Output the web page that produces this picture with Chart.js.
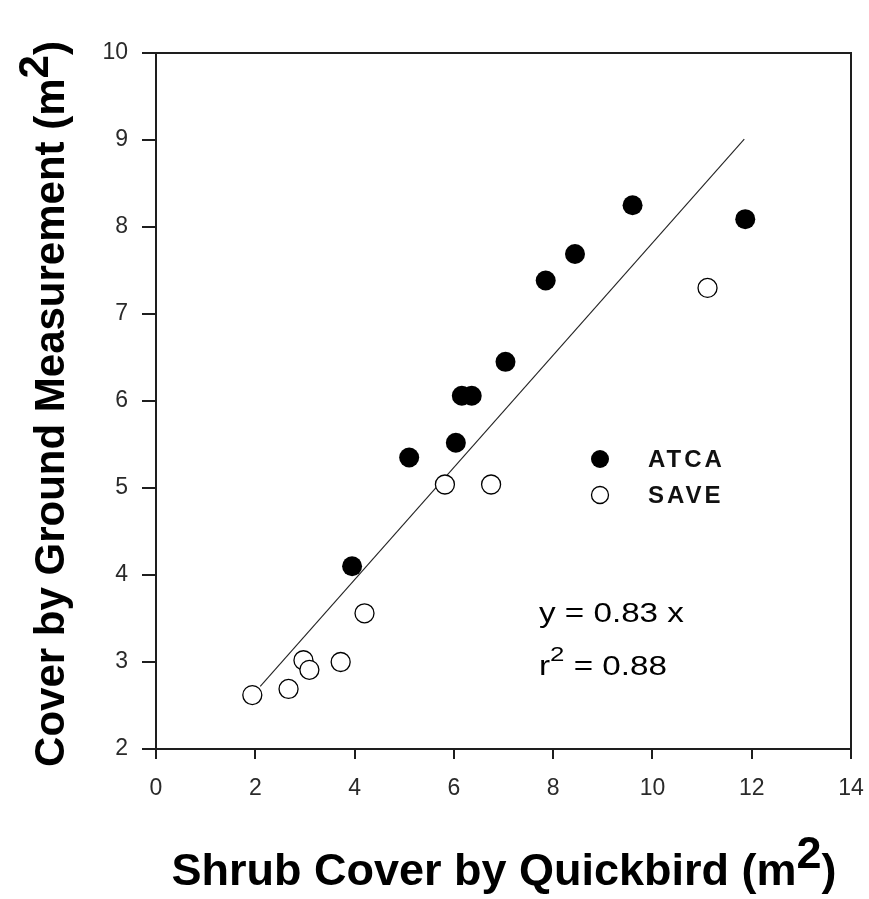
<!DOCTYPE html>
<html>
<head>
<meta charset="utf-8">
<title>Shrub cover: Quickbird vs ground measurement</title>
<script src="https://cdn.jsdelivr.net/npm/chart.js@4/dist/chart.umd.min.js"></script>
<style>
  html, body { margin: 0; padding: 0; background: #fff; }
  #wrap { width: 869px; height: 899px; }
  canvas { display: block; }
</style>
</head>
<body>
<div id="wrap"><canvas id="c" width="869" height="899"></canvas></div>
<script>
// Shrub cover estimated from Quickbird imagery (x) vs. ground measurement (y), m^2
const atcaX = [3.95, 5.10, 6.04, 6.16, 6.36, 7.04, 7.85, 8.44, 9.60, 11.87];
const atcaY = [4.10, 5.35, 5.52, 6.06, 6.06, 6.45, 7.385, 7.69, 8.25, 8.09];

const saveX = [1.94, 2.67, 2.97, 3.09, 3.72, 4.20, 5.82, 6.75, 11.11];
const saveY = [2.62, 2.69, 3.02, 2.91, 3.00, 3.56, 5.04, 5.04, 7.30];

// Fitted line, drawn between its two end points
const fitX = [2.10, 11.85];
const fitY = [2.72, 9.01];

const xTicks = [0, 2, 4, 6, 8, 10, 12, 14];
const yTicks = [2, 3, 4, 5, 6, 7, 8, 9, 10];

const seriesNames = ['ATCA', 'SAVE'];
const xTitle = ['Shrub Cover by Quickbird (m', '2', ')'];
const yTitle = ['Cover by Ground Measurement (m', '2', ')'];
const eqLine1 = 'y = 0.83 x';
const eqLine2 = ['r', '2', ' = 0.88'];

const toPoints = (xs, ys) => xs.map((x, i) => ({ x: x, y: ys[i] }));

const INK = '#1e1e1e';
const TICK_FONT = { family: '"Liberation Sans", Arial, sans-serif', size: 23 };

// Draws a string with a raised full-size superscript, centred on x
function drawSuper(ctx, parts, x, y, raise) {
  ctx.textAlign = 'left';
  ctx.textBaseline = 'alphabetic';
  const w0 = ctx.measureText(parts[0]).width;
  const w1 = ctx.measureText(parts[1]).width;
  const w2 = ctx.measureText(parts[2]).width;
  const total = w0 + w1 + w2;
  const cx = x - total / 2;
  ctx.fillText(parts[0], cx, y);
  ctx.fillText(parts[1], cx + w0, y - raise);
  ctx.fillText(parts[2], cx + w0 + w1, y);
  return total;
}

const decorations = {
  id: 'decorations',
  afterDraw(chart) {
    const ctx = chart.ctx;
    const a = chart.chartArea;
    ctx.save();

    // frame: top and right edges
    ctx.strokeStyle = INK;
    ctx.lineWidth = 2;
    ctx.beginPath();
    ctx.moveTo(a.left, a.top);
    ctx.lineTo(a.right, a.top);
    ctx.lineTo(a.right, a.bottom);
    ctx.stroke();

    // legend
    const lx = a.left + 444, ly1 = a.top + 406, ly2 = a.top + 442;
    ctx.fillStyle = '#000';
    ctx.beginPath(); ctx.arc(lx, ly1, 9, 0, Math.PI * 2); ctx.fill();
    ctx.fillStyle = '#fff';
    ctx.strokeStyle = '#000';
    ctx.lineWidth = 1.3;
    ctx.beginPath(); ctx.arc(lx, ly2, 8.5, 0, Math.PI * 2); ctx.fill(); ctx.stroke();

    ctx.fillStyle = '#111';
    ctx.font = 'bold 24px "Liberation Sans", Arial, sans-serif';
    ctx.letterSpacing = '3px';
    ctx.textAlign = 'left';
    ctx.textBaseline = 'middle';
    ctx.fillText(seriesNames[0], lx + 48, ly1 + 1);
    ctx.fillText(seriesNames[1], lx + 48, ly2 + 1);
    ctx.letterSpacing = '0px';

    // regression annotation
    ctx.fillStyle = '#000';
    ctx.font = '27px "Liberation Sans", Arial, sans-serif';
    ctx.textBaseline = 'alphabetic';
    ctx.save();
    ctx.translate(a.left + 383, a.top + 569);
    ctx.scale(1.23, 1);
    ctx.fillText(eqLine1, 0, 0);
    const rW = ctx.measureText(eqLine2[0]).width;
    ctx.fillText(eqLine2[0], 0, 53);
    ctx.font = '21px "Liberation Sans", Arial, sans-serif';
    const sW = ctx.measureText(eqLine2[1]).width;
    ctx.fillText(eqLine2[1], rW, 53 - 14);
    ctx.font = '27px "Liberation Sans", Arial, sans-serif';
    ctx.fillText(eqLine2[2], rW + sW, 53);
    ctx.restore();

    // axis titles
    ctx.fillStyle = '#000';
    ctx.font = 'bold 45px "Liberation Sans", Arial, sans-serif';
    drawSuper(ctx, xTitle, 504, 885, 17);

    ctx.font = 'bold 42px "Liberation Sans", Arial, sans-serif';
    ctx.save();
    ctx.translate(64, 404);
    ctx.rotate(-Math.PI / 2);
    drawSuper(ctx, yTitle, 0, 0, 16);
    ctx.restore();

    ctx.restore();
  }
};

new Chart(document.getElementById('c'), {
  type: 'scatter',
  data: {
    datasets: [
      {
        label: seriesNames[0],
        data: toPoints(atcaX, atcaY),
        pointStyle: 'circle',
        pointRadius: 10,
        backgroundColor: '#000',
        borderColor: '#000',
        borderWidth: 0
      },
      {
        label: seriesNames[1],
        data: toPoints(saveX, saveY),
        pointStyle: 'circle',
        pointRadius: 9.5,
        backgroundColor: '#fff',
        borderColor: '#000',
        borderWidth: 1.3
      },
      {
        type: 'line',
        label: 'fit',
        data: toPoints(fitX, fitY),
        borderColor: '#222',
        borderWidth: 1.1,
        pointRadius: 0,
        fill: false,
        tension: 0
      }
    ]
  },
  options: {
    responsive: false,
    animation: false,
    events: [],
    layout: { padding: { left: 0, top: 53, right: 18, bottom: 0 } },
    plugins: {
      legend: { display: false },
      tooltip: { enabled: false },
      title: { display: false }
    },
    scales: {
      x: {
        type: 'linear',
        min: xTicks[0],
        max: xTicks[xTicks.length - 1],
        afterBuildTicks: (s) => { s.ticks = xTicks.map(v => ({ value: v })); },
        afterFit: (s) => { s.height = 150; s.paddingLeft = 0; s.paddingRight = 0; },
        ticks: { font: TICK_FONT, color: '#2a2a2a', padding: 16, maxRotation: 0 },
        grid: { drawOnChartArea: false, tickLength: 10, color: INK, lineWidth: 2 },
        border: { color: INK, width: 2 }
      },
      y: {
        type: 'linear',
        min: yTicks[0],
        max: yTicks[yTicks.length - 1],
        afterBuildTicks: (s) => { s.ticks = yTicks.map(v => ({ value: v })); },
        afterFit: (s) => { s.width = 156; s.paddingTop = 0; s.paddingBottom = 0; },
        ticks: { font: TICK_FONT, color: '#2a2a2a', padding: 14 },
        grid: { drawOnChartArea: false, tickLength: 14, color: INK, lineWidth: 2 },
        border: { color: INK, width: 2 }
      }
    }
  },
  plugins: [decorations]
});
</script>
</body>
</html>
